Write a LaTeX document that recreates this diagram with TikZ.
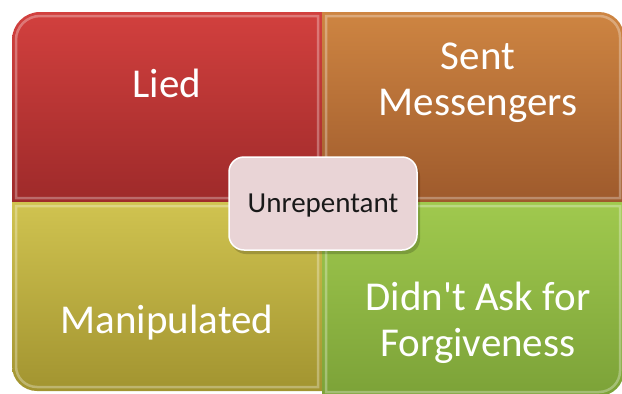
\documentclass[tikz,border=0pt]{standalone}
\usepackage{fontspec}
\setmainfont{Carlito}[Ligatures=TeXOff]
\definecolor{redT}{RGB}{210,64,62}
\definecolor{redB}{RGB}{158,42,42}
\definecolor{orgT}{RGB}{206,133,66}
\definecolor{orgB}{RGB}{158,90,44}
\definecolor{yelT}{RGB}{208,195,80}
\definecolor{yelB}{RGB}{162,148,48}
\definecolor{grnT}{RGB}{160,201,78}
\definecolor{grnB}{RGB}{124,162,56}
\definecolor{ctrFill}{RGB}{233,212,214}
\tikzset{
  qtext/.style={text=white, align=center, font=\fontsize{41}{46}\selectfont},
  bevel/.style={draw=white, draw opacity=0.3, line width=2.5pt},
  ctrbox/.style={rounded corners=15pt, fill=ctrFill, draw=white, line width=1.5pt,
     minimum width=188pt, minimum height=93pt, inner sep=0pt, text depth=0pt,
     font=\fontsize{29}{30}\selectfont, text=black!90}
}
\begin{document}
\begin{tikzpicture}[x=1pt,y=1pt]
\useasboundingbox (0,0) rectangle (622,-394);
\fill[white] (0,0) rectangle (622,-394);
\begin{scope}
\clip (0,0) rectangle (622,-394);
% red quadrant
\shade[top color=redT, bottom color=redB]
  (12,-202) -- (12,-40) arc[start angle=180,end angle=90,radius=28] -- (322,-12) -- (322,-202) -- cycle;
\path[bevel] (16,-198) -- (16,-40) arc[start angle=180,end angle=90,radius=24] -- (318,-16) -- (318,-198) -- cycle;
% orange quadrant
\shade[top color=orgT, bottom color=orgB]
  (322,-202) -- (322,-12) -- (599,-12) arc[start angle=90,end angle=0,radius=25] -- (624,-202) -- cycle;
\path[bevel] (326,-198) -- (326,-16) -- (599,-16) arc[start angle=90,end angle=0,radius=21] -- (620,-198) -- cycle;
% yellow quadrant
\shade[top color=yelT, bottom color=yelB]
  (12,-202) -- (322,-202) -- (322,-391) -- (37,-391) arc[start angle=270,end angle=180,radius=25] -- (12,-366) -- cycle;
\path[bevel] (16,-206) -- (318,-206) -- (318,-387) -- (37,-387) arc[start angle=270,end angle=180,radius=21] -- (16,-366) -- cycle;
% green quadrant
\shade[top color=grnT, bottom color=grnB]
  (322,-202) -- (624,-202) -- (624,-371) arc[start angle=0,end angle=-90,radius=25] -- (322,-396) -- cycle;
\path[bevel] (326,-206) -- (620,-206) -- (620,-371) arc[start angle=0,end angle=-90,radius=21] -- (326,-392) -- cycle;
\end{scope}
% texts
\node[qtext] (lied) at (167,-83) {Lied};
\node[qtext] (sent) at (478,-83) {Sent\\Messengers};
\node[qtext] (manip) at (167,-323) {Manipulated};
\node[qtext] (didnt) at (478,-323) {Didn't Ask for\\Forgiveness};
% centre
\fill[black, opacity=0.18, rounded corners=15pt] (231,-161) rectangle (420,-254);
\node[ctrbox] (unrep) at (323,-203.5) {Unrepentant};
\end{tikzpicture}
\end{document}
